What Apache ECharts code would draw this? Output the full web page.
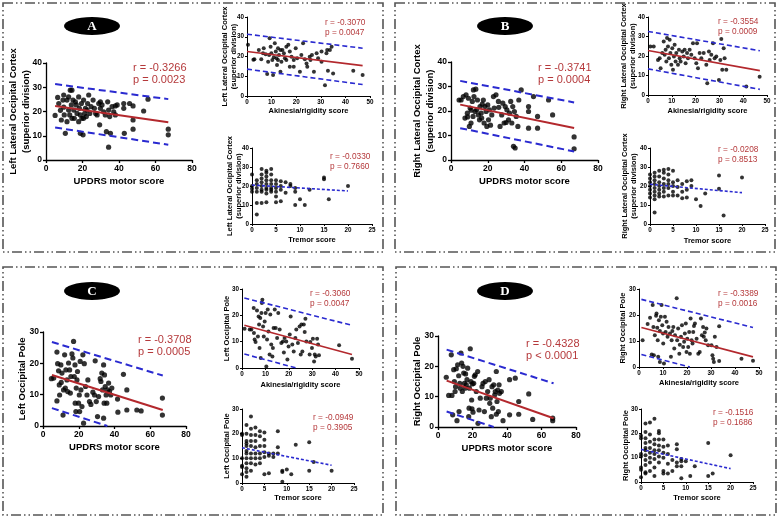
<!DOCTYPE html>
<html><head><meta charset="utf-8">
<script src="https://cdn.jsdelivr.net/npm/echarts@6/dist/echarts.min.js"></script>
<style>html,body{margin:0;padding:0;background:#fff}#c{width:778px;height:517px}</style>
</head><body><div id="c"></div>
<script>
// ---------------- DATA ----------------
const A_updrs = [[5,18.4],[6.4,25.8],[7.9,20.5],[8.4,16.5],[9.3,24.7],[9.7,21.8],[10,18.6],[10.6,11],[11.5,24.7],[11.5,15.8],[12.4,26],[12.4,20.6],[13,18.6],[13.3,28.8],[13.9,22.7],[14.2,28.8],[14.8,24.7],[15.2,20.6],[15.5,17.2],[16.1,24],[16.6,22.7],[17,19.2],[17.9,26],[18.3,21.3],[18.8,18.6],[18.8,11],[19.4,23.3],[19.7,17.2],[20.3,10.4],[20.6,24.7],[21.2,19.2],[21.6,21.3],[22.1,17.9],[22.8,23.3],[23.4,26.8],[24,19.2],[24.7,22],[25.8,24.7],[26.5,21.3],[27.2,19.2],[28,18.6],[28.9,23.3],[29.4,14.5],[29.8,21.3],[30.7,22.7],[31.6,19.9],[32.5,18.6],[33.1,11.7],[33.8,24],[34.3,20.6],[34.3,5.3],[34.9,17.9],[35.3,11],[36.2,22],[37.1,19.9],[38,22.3],[39,22.7],[42.6,23.3],[42.6,21.3],[42.9,11],[45.8,23.3],[47.7,22.3],[47.7,16.5],[47.7,12.7],[53.5,20.2],[55.9,25.1],[67,12.7],[67,10.4],[7,23.3],[14.2,17.2],[20.6,17.2],[22.5,20.6],[17.9,15.8],[29.8,24],[38,18.6],[9.7,26.8]];
const A_updrs_fit = [[5,22.3],[67,15.6]];
const A_updrs_hi = [[5,31.3],[67,25.1]];
const A_updrs_lo = [[5,13.4],[67,6.3]];
const A_updrs_stats = ['r = -0.3266','p = 0.0023'];

const A_akin = [[0.4,25.9],[5.8,18.6],[6.8,24.2],[7.6,21.1],[8.2,11.1],[9.2,29.3],[9.6,25],[9.9,21.6],[10.3,18.2],[10.6,10.6],[11.3,26.7],[11.7,22.5],[12,19.1],[12.2,15.7],[12.6,24.2],[13,20.8],[13.6,12.3],[14,17.4],[14.4,23.3],[15,21.6],[15.4,19.1],[16,18.2],[16.8,25.9],[17.4,22.5],[18.1,19.9],[19,14.8],[19.8,24.2],[20.4,19.1],[21.5,12.3],[22.1,20.8],[22.8,26.7],[23.5,18.6],[24.2,16.5],[25.5,19.9],[26.4,20.8],[27.2,12.3],[28.3,21.6],[28.9,19.1],[30.3,17.4],[31.7,5.4],[32.3,21.6],[32.6,23.3],[32.9,12.8],[34.4,25],[35,11.4],[43.2,12.8],[47,10.6],[6.5,21.6],[8.6,17.4],[9,20.8],[10.9,19.6],[12.6,18.2],[13.6,23.3],[16,25],[17.4,14.8],[19,18.2],[24.5,14.8],[25.8,18.2],[30.3,22.5],[33.7,23.3],[3,18.6],[4.8,23.3],[2.6,18.4]];
const A_akin_fit = [[0,22.5],[47,15.4]];
const A_akin_hi = [[0,31.3],[47,24.2]];
const A_akin_lo = [[0,13.6],[47,5.8]];
const A_akin_stats = ['r = -0.3070','p = 0.0047'];

const A_trem = [[0,[26,20,18.5,17]],[1,[23,21,19,17,11,5]],[2,[29,26,24,22,20,18,17,11]],[3,[28,27,25,23,21,19,18,16,11.5]],[4,[29,26,23,21,19,18,17]],[5,[23,21,19,17,14.5,11.5]],[6,[22.5,20,18,12]],[7,[22,16.5]],[8,[21,20]],[9,[19,17,10]],[10,[13]],[11,[10]],[12,[18]],[15,[24.5,23.5]],[16,[13]],[20,[20]]];
const A_trem_fit = [[0,20.5],[20,17.4]];
const A_trem_stats = ['r = -0.0330','p = 0.7660'];

const B_updrs = [[4.4,24.5],[5.5,24.5],[6.7,25.9],[7.6,17.1],[8.2,26.6],[8.9,19.1],[9.5,25.2],[10,13.7],[10.4,21.2],[10.9,15.1],[11.6,23.9],[12.2,28.6],[12.5,25.9],[13.1,19.8],[13.5,28.9],[14,20.5],[14.4,24.5],[14.9,18.4],[15.5,16.4],[15.8,21.8],[16.4,19.1],[16.7,17.1],[17.6,24.5],[18,15.1],[18.5,21.8],[19.1,19.8],[19.5,13.7],[20,22.5],[20.4,16.4],[20.9,20.5],[22.2,18.4],[23.1,25.9],[23.5,21.2],[24.5,26.6],[25.8,23.9],[26.7,13.7],[27.6,18.4],[28.2,23.2],[28.9,15.1],[29.5,21.8],[30.4,20.5],[31.3,16.4],[31.8,19.1],[32.5,23.9],[33.1,15.1],[33.6,21.8],[34,5.6],[34.5,19.8],[34.9,4.9],[35.5,17.8],[36.4,13.7],[36.9,24.5],[38.2,28.6],[42.2,21.8],[42.2,19.8],[42.2,13],[44.9,25.9],[47.1,17.8],[47.1,13],[53.1,24.5],[55.3,18.4],[67,9.4],[67,4.6],[9,17.6],[11,20.3],[17,22.8],[21.5,14.2],[26,21.5],[12,17.8],[30,15.3]];
const B_updrs_fit = [[5,22.6],[67,13.1]];
const B_updrs_hi = [[5,32.3],[67,23.5]];
const B_updrs_lo = [[5,13],[67,3.5]];
const B_updrs_stats = ['r = -0.3741','p = 0.0004'];

const B_akin = [[1,24.9],[2.4,24.9],[4.2,18],[4.9,18.9],[5.3,13.7],[6,21.5],[6.6,27.5],[7,20.6],[7.4,23.2],[7.7,17.2],[8,29.2],[8.4,24.9],[8.8,18.9],[9.1,28.3],[9.4,21.5],[9.8,15.5],[10.2,24],[10.5,12.9],[10.9,19.7],[11.2,25.8],[11.6,17.2],[11.9,21.5],[12.6,15.5],[13,23.2],[13.3,18.9],[13.7,17.2],[14.4,22.3],[15,19.7],[15.4,23.2],[15.8,16.3],[16.4,21.5],[16.8,18.9],[17.5,23.2],[18.2,20.6],[18.9,26.6],[19.6,18.9],[20.3,16.3],[20.6,26.6],[21,13.7],[21.7,21.5],[22.4,18.9],[23.4,21.5],[24.5,15.5],[24.9,6],[25.6,22.3],[25.9,18],[26.6,20.6],[27.3,26.6],[28,18.9],[28.7,19.7],[29.8,7.7],[30.4,18],[30.8,28.7],[31.2,12.9],[31.8,24],[32.2,18.9],[32.9,12.9],[41.3,4.3],[46.9,9.4]];
const B_akin_fit = [[0,22.8],[47,12.5]];
const B_akin_hi = [[0,32.6],[47,22.7]];
const B_akin_lo = [[0,13.4],[47,2.9]];
const B_akin_stats = ['r = -0.3554','p = 0.0009'];

const B_trem = [[0,[26,24,22,20,18,16,14]],[1,[27,25,23,21,19,17,15,13,6]],[2,[28,25,22,20,18,16,14.5]],[3,[28.5,27,24,21,19,17,14.5]],[4,[29,26,23,21,19,15]],[5,[28,22,20,17,15]],[6,[23,19.5,15]],[7,[21,17,13.5]],[8,[22.5,18,14]],[9,[23,20]],[10,[13]],[11,[9.5]],[12,[16]],[15,[25.5,18.5]],[16,[4.5]],[20,[24.5]]];
const B_trem_fit = [[0,20.9],[20,16.5]];
const B_trem_stats = ['r = -0.0208','p = 0.8513'];

const C_updrs = [[4.7,15.1],[6,15.3],[7.8,23.6],[7.8,8],[8.2,19.9],[8.7,17.6],[9.1,13.1],[9.3,9.9],[10,19.5],[10.2,13.9],[10.6,16.9],[11.2,3.5],[11.5,11.5],[12.1,22.7],[12.5,12.1],[12.8,17.9],[13.4,14.7],[13.8,11],[14.3,20.1],[14.9,17.9],[15.3,10.5],[15.6,15.8],[16.2,23],[16.7,21.7],[17.1,27],[17.5,15.8],[17.9,19.5],[18,7.3],[18.4,4.6],[18.6,12.1],[19,14.7],[19.3,17.4],[19.9,7.3],[20.3,9.9],[20.5,4.6],[20.8,20.6],[21.2,11.5],[21.8,6.2],[22.3,22.7],[22.7,0.9],[23.1,19.9],[23.8,12.6],[24.6,9.9],[25.1,14.7],[26,7.8],[26.8,6.9],[27.9,10.8],[28.8,9.9],[29.2,20.8],[29.8,7.8],[30.5,3],[31.1,9.4],[32,15.1],[32.4,14.2],[32.9,16.9],[33.3,11.5],[33.9,19.5],[33.9,2.5],[34.2,7.3],[34.4,16.3],[34.8,12.6],[35.3,9.9],[35.7,7.3],[36.1,11.5],[36.7,13.7],[37.2,11],[37.9,9.9],[38.5,12.1],[41.7,8.6],[41.9,4.4],[45,16.5],[46.9,11.5],[46.9,5.1],[52.5,5.1],[54.9,4.8],[66.8,8.9],[66.8,3.5]];
const C_updrs_fit = [[5,16.3],[67,5.1]];
const C_updrs_hi = [[5,26.8],[67,16.1]];
const C_updrs_lo = [[5,5.7],[36,0]];
const C_updrs_stats = ['r = -0.3708','p = 0.0005'];

const C_akin = [[1.1,14.9],[3.3,14.6],[4,14.6],[5,22.8],[5.1,13.3],[5.4,10.8],[5.8,9.9],[6.4,21.8],[6.8,12],[7.1,19.6],[7.3,16.5],[7.5,7.6],[7.8,19],[8,3.8],[8.3,20.9],[8.5,24.7],[8.7,25.9],[9,15.8],[9.3,12],[9.7,17.7],[10.1,20.9],[10.4,0.6],[10.7,10.8],[11,22.2],[11.3,13.9],[11.8,5.1],[12.1,20.3],[12.5,8.9],[13,4.4],[13.2,7.6],[13.5,15.2],[14,22.2],[14.4,15.2],[15,11.4],[15.5,20.9],[16.1,14.6],[16.8,9.5],[17.5,10.1],[17.9,5.9],[18.2,11.4],[18.9,10.1],[19.4,3.2],[19.9,8.2],[20.4,12.7],[20.8,19.6],[21.5,8.9],[22.1,6.3],[22.8,11.4],[23.2,14.6],[23.9,9.5],[24.6,15.8],[25.1,5.1],[25.4,16.5],[25.8,6.3],[26.4,16.5],[26.8,13.7],[27.1,18.7],[27.5,10.1],[28.9,5.1],[29.2,9.9],[29.9,7.6],[30.3,11.1],[30.8,2.5],[31.1,5.1],[31.5,4.4],[32.1,11.1],[32.5,8.9],[32.9,4.8],[41.5,8.6],[47,3.5]];
const C_akin_fit = [[1,16.2],[47,5.1]];
const C_akin_hi = [[1,26.6],[47,16.2]];
const C_akin_lo = [[1,5.3],[23.2,0]];
const C_akin_stats = ['r = -0.3060','p = 0.0047'];

const C_trem = [[0,[20,19.5,10,7,6.5,3.5]],[1,[23.5,20,17,16,15,13,12,10,8,6,4.5,2.5]],[2,[27,22,19.5,17,15,12,10,8,5]],[3,[22.5,19.5,17,14.5,12,10,7.5]],[4,[21,19,15,12,10,8]],[5,[20.5,17.5,15,12.5,10.5,3.5]],[6,[12,11,4]],[7,[12,10.5]],[8,[21,14.5,12]],[9,[5,4.5,0.5]],[10,[5.5]],[11,[3.5]],[12,[15.5]],[15,[16.5,5]],[16,[8.5]],[20,[5]]];
const C_trem_fit = [[0,14.3],[20,7.2]];
const C_trem_stats = ['r = -0.0949','p = 0.3905'];

const D_updrs = [[4.8,16.4],[6.2,10.4],[7.7,23.8],[8.1,10.4],[8.5,4],[9.1,18.9],[9.5,15],[9.9,11.7],[10.2,13.3],[10.6,19.2],[11,2.1],[11.4,20.5],[12,16.9],[12.2,5.1],[12.6,14.4],[12.9,12.8],[13.3,24.4],[13.7,21.1],[14.1,11.7],[14.5,20],[14.9,17.8],[15.3,14.4],[15.7,12.8],[16,17.5],[16.4,13.9],[16.8,15.6],[17.2,19.4],[17.8,3.4],[18,6.2],[18.2,12.8],[18.7,25.8],[19.1,15],[19.5,8.9],[19.7,6],[19.9,14.2],[20.3,4.9],[20.7,14.4],[21.1,16.7],[21.6,17.2],[22.2,11.7],[23,18.3],[23.2,1.2],[23.8,5.6],[24.5,9.5],[25.5,13.3],[26.1,14.4],[26.9,5.1],[27.4,15],[28,9.5],[28.8,11.7],[29.6,15.6],[30,7.8],[30.3,9.5],[30.9,3.4],[31.3,13.3],[31.7,6.2],[32.3,13.9],[32.9,10.6],[33.2,11.7],[33.8,18.3],[33.8,4.2],[34.2,8.4],[34.6,12.2],[35,5.1],[35.4,13.9],[35.7,11.1],[36.7,11.7],[37.7,2.1],[41.5,15.6],[41.5,4],[44.8,16.1],[46.8,8.4],[46.8,4.2],[52.6,10.9],[54.9,2.5],[66.5,2.9],[66.5,2.1]];
const D_updrs_fit = [[5,15.3],[67,2.9]];
const D_updrs_hi = [[5,25.5],[67,14.4]];
const D_updrs_lo = [[5,5.1],[32.3,0]];
const D_updrs_stats = ['r = -0.4328','p < 0.0001'];

const D_akin = [[1.5,10.3],[3.6,16.5],[4.6,18.9],[5.3,4.8],[5.7,23.8],[6,15.4],[6.2,4.5],[6.6,12.2],[7.1,19.7],[7.3,20.6],[7.6,15.1],[7.8,10.3],[8,3.9],[8.3,18],[8.7,1.9],[8.7,13.8],[9.1,19.3],[9.4,23.8],[9.7,16.1],[10,12.9],[10.1,9],[10.4,1.3],[10.8,19.3],[11.1,13.5],[11.5,17.4],[11.9,11.6],[12.3,15.4],[12.9,12.9],[13.3,3.9],[13.6,10.3],[13.9,13.8],[14.3,15.4],[14.7,7.1],[15,12.2],[15.7,26.4],[15.9,10.3],[16.3,14.8],[16.8,5.1],[17,8.6],[17.5,11.6],[17.9,16.1],[18.4,7.7],[18.8,9.7],[19.1,12.9],[19.5,16.7],[19.8,5.8],[20.1,10.9],[20.5,7.7],[20.9,13.5],[21.2,5.1],[21.5,18.7],[21.9,10.3],[22.3,9],[22.6,13.5],[22.9,15.8],[23.3,16.7],[24,10.9],[24.7,5.1],[25.3,5.8],[25.8,18.7],[26.2,12.2],[26.7,15.4],[27,11.6],[27.4,13.3],[27.8,10.3],[28.1,14.8],[28.8,8.4],[30.2,8.4],[30.6,4.5],[30.9,3.2],[31.2,1.9],[31.6,11.6],[32.3,7.7],[33.4,15.7],[33.4,2.3],[42.7,3.2],[47.5,2.4]];
const D_akin_fit = [[1,15.2],[47.5,3.9]];
const D_akin_hi = [[1,26],[47.5,15.2]];
const D_akin_lo = [[1,4.8],[21.2,0]];
const D_akin_stats = ['r = -0.3389','p = 0.0016'];

const D_trem = [[0,[19,18,11.5,10.5,6,5,2]],[1,[24,20.5,18,16,14,13,11,9,7,4,3.5]],[2,[24.5,19.5,16.5,14,12,10,8,4.5]],[3,[26,17.5,15.5,13,11.5,9.5,6,2.5]],[4,[21,20,17.5,15,13,10.5,8]],[5,[17.5,14.5,12,10,4.5,3.5]],[6,[15,11.5,7.5,3.5]],[7,[9,4.5]],[8,[15.5,13.5,8,6.5]],[9,[9.5,8.5,6.5,1.5]],[10,[8.5]],[11,[2.5]],[12,[6.5]],[15,[16,2.5]],[16,[3.5]],[20,[11]]];
const D_trem_fit = [[0,13.4],[20,5.5]];
const D_trem_stats = ['r = -0.1516','p = 0.1686'];

const panelLetters = ['A','B','C','D'];
const xTitles = ['UPDRS motor score','Akinesia/rigidity score','Tremor score'];
const yTitleLOC_L = 'Left Lateral Occipital Cortex\n(superior division)';
const yTitleLOC_R = 'Right Lateral Occipital Cortex\n(superior division)';
const yTitleOP_L = 'Left Occipital Pole';
const yTitleOP_R = 'Right Occipital Pole';

// ---------------- LAYOUT ----------------
const flat = g => g.flatMap(([x, ys]) => ys.map(y => [x, y]));
const F = '"Liberation Sans", Arial, sans-serif';
const RED = '#b3282d', BLUE = '#2a2ad0', TXT = '#b5393b';

const plots = [
  {d:A_updrs, fit:A_updrs_fit, hi:A_updrs_hi, lo:A_updrs_lo, st:A_updrs_stats, g:[46,63,146,97], x:[80,20], y:[40,10], xn:xTitles[0], yn:yTitleLOC_L, big:true, xg:15, yg:13, sp:[133,62]},
  {d:A_akin, fit:A_akin_fit, hi:A_akin_hi, lo:A_akin_lo, st:A_akin_stats, g:[247,17,123,79], x:[50,10], y:[40,10], xn:xTitles[1], yn:yTitleLOC_L, xg:10, yg:9, sp:[325,18]},
  {d:flat(A_trem), fit:A_trem_fit, st:A_trem_stats, g:[252,148,120,76], x:[25,5], y:[40,10], xn:xTitles[2], yn:yTitleLOC_L, xg:11, yg:9, sp:[330,152], trem:true},
  {d:B_updrs, fit:B_updrs_fit, hi:B_updrs_hi, lo:B_updrs_lo, st:B_updrs_stats, g:[451,62,147,98], x:[80,20], y:[40,10], xn:xTitles[0], yn:yTitleLOC_R, big:true, xg:15, yg:14, sp:[538,62]},
  {d:B_akin, fit:B_akin_fit, hi:B_akin_hi, lo:B_akin_lo, st:B_akin_stats, g:[648,17,119,78], x:[50,10], y:[40,10], xn:xTitles[1], yn:yTitleLOC_R, xg:11, yg:11, sp:[718,17]},
  {d:flat(B_trem), fit:B_trem_fit, st:B_trem_stats, g:[650,148,115,76], x:[25,5], y:[40,10], xn:xTitles[2], yn:yTitleLOC_R, xg:12, yg:12, sp:[718,145], trem:true},
  {d:C_updrs, fit:C_updrs_fit, hi:C_updrs_hi, lo:C_updrs_lo, st:C_updrs_stats, g:[43,332,143,94], x:[80,20], y:[30,10], xn:xTitles[0], yn:yTitleOP_L, big:true, xg:15, yg:14, sp:[138,334]},
  {d:C_akin, fit:C_akin_fit, hi:C_akin_hi, lo:C_akin_lo, st:C_akin_stats, g:[242,289,117,79], x:[50,10], y:[30,10], xn:xTitles[1], yn:yTitleOP_L, xg:12, yg:11, sp:[310,289]},
  {d:flat(C_trem), fit:C_trem_fit, st:C_trem_stats, g:[242,409,112,74], x:[25,5], y:[30,10], xn:xTitles[2], yn:yTitleOP_L, xg:10, yg:11, sp:[313,413], trem:true},
  {d:D_updrs, fit:D_updrs_fit, hi:D_updrs_hi, lo:D_updrs_lo, st:D_updrs_stats, g:[438,336,138,91], x:[80,20], y:[30,10], xn:xTitles[0], yn:yTitleOP_R, big:true, xg:15, yg:14, sp:[526,338]},
  {d:D_akin, fit:D_akin_fit, hi:D_akin_hi, lo:D_akin_lo, st:D_akin_stats, g:[639,289,120,78], x:[50,10], y:[30,10], xn:xTitles[1], yn:yTitleOP_R, xg:11, yg:12, sp:[718,289]},
  {d:flat(D_trem), fit:D_trem_fit, st:D_trem_stats, g:[641,409,112,73], x:[25,5], y:[30,10], xn:xTitles[2], yn:yTitleOP_R, xg:11, yg:11, sp:[713,408], trem:true}
];

const grid = [], xAxis = [], yAxis = [], series = [], graphic = [];
plots.forEach((p, i) => {
  const big = !!p.big;
  const lab = big ? 8.5 : 6.3, nm = big ? 9.5 : 7.5, lw = big ? 1.3 : 1;
  grid.push({left:p.g[0], top:p.g[1], width:p.g[2], height:p.g[3], outerBoundsMode:'none', containLabel:false});
  const axCommon = {
    gridIndex:i, type:'value', min:0,
    axisLine:{show:true, onZero:false, lineStyle:{color:'#000', width:lw}},
    axisTick:{show:true, length:big?3:2, lineStyle:{color:'#000', width:lw}},
    axisLabel:{fontSize:lab, fontWeight:'bold', color:'#000', fontFamily:F, margin:big?4:3},
    splitLine:{show:false},
    nameLocation:'middle', nameMoveOverlap:false,
    nameTextStyle:{fontSize:nm, fontWeight:'bold', color:'#000', fontFamily:F, lineHeight:big?13:9}
  };
  xAxis.push(Object.assign({}, axCommon, {max:p.x[0], interval:p.x[1], name:p.xn, nameGap:p.xg}));
  yAxis.push(Object.assign({}, axCommon, {max:p.y[0], interval:p.y[1], name:p.yn, nameGap:p.yg, nameRotate:90}));
  series.push({type:'scatter', xAxisIndex:i, yAxisIndex:i, data:p.d, symbolSize:big?5.2:4,
    itemStyle:{color:'#000'}, silent:true, z:2});
  if (p.trem) {
    series.push({type:'line', xAxisIndex:i, yAxisIndex:i, data:p.fit, symbol:'none', silent:true, z:3,
      lineStyle:{color:BLUE, width:1.6, type:[3,2]}});
  } else {
    series.push({type:'line', xAxisIndex:i, yAxisIndex:i, data:p.fit, symbol:'none', silent:true, z:3,
      lineStyle:{color:RED, width:big?2:1.6}});
    [p.hi, p.lo].forEach(b => series.push({type:'line', xAxisIndex:i, yAxisIndex:i, data:b, symbol:'none', silent:true, z:3,
      lineStyle:{color:BLUE, width:big?2:1.6, type:big?[7,4]:[5,3]}}));
  }
  graphic.push({type:'text', x:p.sp[0], y:p.sp[1], silent:true,
    style:{text:p.st.join('\n'), fill:TXT, font:(big?'11px ':'8.3px ')+F, lineHeight:big?12:9.5}});
});

// panel frames (dash-dot-dot)
const frames = [[3,3,380,249],[395,3,380,249],[3,267,380,248],[396,267,380,248]];
frames.forEach(f => graphic.push({type:'rect', silent:true, shape:{x:f[0], y:f[1], width:f[2], height:f[3]},
  style:{fill:null, stroke:'#555', lineWidth:1.6, lineDash:[10,3,1.5,3,1.5,3]}}));
// panel letter badges
const badgePos = [[92,26],[505,26],[92,291],[505,291]];
badgePos.forEach((b, k) => {
  graphic.push({type:'circle', silent:true, x:b[0], y:b[1], scaleY:9/28, shape:{cx:0, cy:0, r:28}, style:{fill:'#000'}});
  graphic.push({type:'text', silent:true, x:b[0], y:b[1]+1, style:{text:panelLetters[k], fill:'#fff',
    font:'bold 13px "Liberation Serif", "Times New Roman", serif', align:'center', verticalAlign:'middle'}});
});

const chart = echarts.init(document.getElementById('c'), null, {renderer:'canvas'});
chart.setOption({animation:false, backgroundColor:'#fff', grid, xAxis, yAxis, series, graphic});
</script>
</body></html>
